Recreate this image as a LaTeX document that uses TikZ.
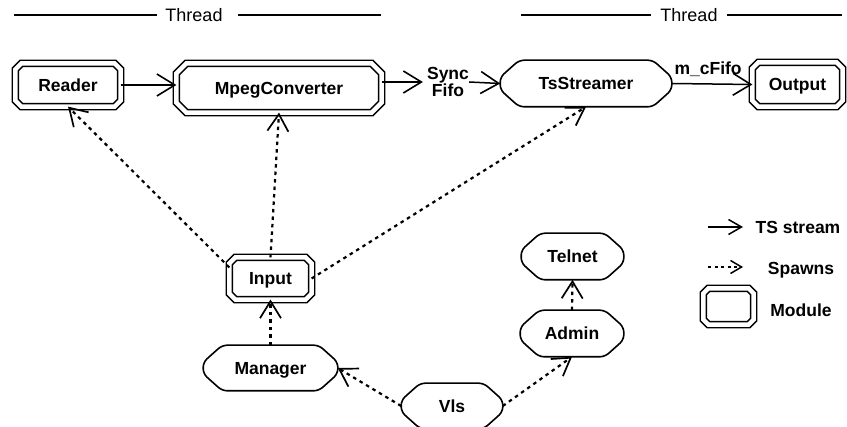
\documentclass[tikz,border=0pt]{standalone}
\usepackage{fontspec}
\setmainfont{Liberation Sans}
\usetikzlibrary{arrows.meta}

\newcommand\lblfont{\fontsize{17.5}{13}\selectfont\bfseries}
% octagon outline around a named node: #1 style, #2 node, #3 horizontal cut, #4 vertical cut
\newcommand\octagon[4]{%
  \draw[#1] ([xshift=#3]#2.north west) -- ([xshift=-#3]#2.north east)
    -- ([yshift=-#4]#2.north east) -- ([yshift=#4]#2.south east)
    -- ([xshift=-#3]#2.south east) -- ([xshift=#3]#2.south west)
    -- ([yshift=#4]#2.south west) -- ([yshift=-#4]#2.north west) -- cycle;}

\begin{document}
\begin{tikzpicture}[x=1pt,y=-1pt,
  box/.style={draw=none, inner sep=0pt, font=\lblfont, text height=12.6pt, text depth=0pt},
  module/.style={box, outer sep=3.6pt},
  proc/.style={box, outer sep=0.8pt},
  modline/.style={line width=1.6pt, double=white, double distance=4.4pt, line join=miter},
  procline/.style={line width=1.6pt, rounded corners=5pt},
  flowtip/.tip={Straight Barb[length=18pt 0 0, width=22pt 0 0, line width=1.6pt]},
  spawntip/.tip={Straight Barb[length=17pt 0 0, width=21pt 0 0, line width=1.7pt]},
  flow/.style={line width=1.5pt, -flowtip},
  spawn/.style={line width=2.2pt, dash pattern=on 3.5pt off 4pt, -spawntip},
  lbl/.style={font=\lblfont, inner sep=0pt},
  thread/.style={font=\fontsize{18}{20}\selectfont, inner sep=0pt},
  threadline/.style={line width=1.5pt}]

\useasboundingbox[fill=white] (0,0) rectangle (847,427);

% thread brackets
\draw[threadline] (14,15) -- (157,15);
\node[thread] (th1) at (194,15.5) {Thread};
\draw[threadline] (238,15) -- (381,15);
\draw[threadline] (521,15) -- (651,15);
\node[thread] (th2) at (689,15.5) {Thread};
\draw[threadline] (727,15) -- (842,15);

% modules (double outline)
\node[module, minimum width=98pt, minimum height=36pt] (rd) at (68,85) {Reader};
\node[module, minimum width=198pt, minimum height=42pt] (mp) at (279,88) {MpegConverter};
\node[module, minimum width=83pt, minimum height=37pt] (out) at (797.5,84.5) {Output};
\node[module, minimum width=75pt, minimum height=35pt] (inp) at (270.5,278.5) {Input};
\node[module, minimum width=43pt, minimum height=29pt] (mlg) at (728.5,306.5) {};
\octagon{modline}{rd}{6pt}{6pt}
\octagon{modline}{mp}{10pt}{10pt}
\octagon{modline}{out}{6pt}{6pt}
\octagon{modline}{inp}{6pt}{6pt}
\octagon{modline}{mlg}{5pt}{5pt}

% processes (single outline)
\node[proc, minimum width=170pt, minimum height=45pt] (ts) at (586,83.5) {TsStreamer};
\node[proc, minimum width=133pt, minimum height=44pt] (man) at (270.5,368) {Manager};
\node[proc, minimum width=100pt, minimum height=44pt] (vls) at (452,406) {Vls};
\node[proc, minimum width=101pt, minimum height=45pt] (tel) at (572.5,256.5) {Telnet};
\node[proc, minimum width=102pt, minimum height=45pt] (adm) at (572,333.5) {Admin};
\foreach \n in {ts,man,vls,tel,adm} {\octagon{procline}{\n}{19pt}{17pt}}

% TS stream path
\node[lbl, align=center] (sf) at (448,82) {Sync\\Fifo};
\draw[flow] (rd.east) -- (rd.east -| mp.west);
\draw[flow] (mp.east |- sf.west) -- ([xshift=-4pt]sf.west);
\draw[flow] (sf.east) -- (ts.west);
\draw[flow] (ts.east) -- node[pos=0, anchor=base west, xshift=2pt, yshift=8.5pt, lbl] (cf) {m\_cFifo} (out.west);

% spawning relations
\draw[spawn] (inp.165) -- (rd.south);
\draw[spawn] (inp.north) -- (mp.south);
\draw[spawn] (inp.east) -- (ts.south);
\draw[spawn] (man.north) -- (inp.south);
\draw[spawn] (vls.west) -- (man.east);
\draw[spawn] (vls.east) -- (adm.south);
\draw[spawn] (adm.north) -- (tel.south);

% legend
\coordinate (ls1) at (708,227); \coordinate (le1) at (743,227);
\coordinate (ls2) at (708,267); \coordinate (le2) at (743,267);
\draw[line width=1.5pt, -{Straight Barb[length=13pt 0 0,width=15pt 0 0,line width=1.5pt]}] (ls1) -- (le1);
\draw[line width=2pt, dash pattern=on 3pt off 3.5pt, -{Straight Barb[length=11pt 0 0,width=13pt 0 0,line width=1.5pt]}] (ls2) -- (le2);
\node[lbl, anchor=base] (lt1) at (798,233.3) {TS stream};
\node[lbl, anchor=base] (lt2) at (801,274.3) {Spawns};
\node[lbl, anchor=base] (lt3) at (801,316.3) {Module};
\end{tikzpicture}
\end{document}
